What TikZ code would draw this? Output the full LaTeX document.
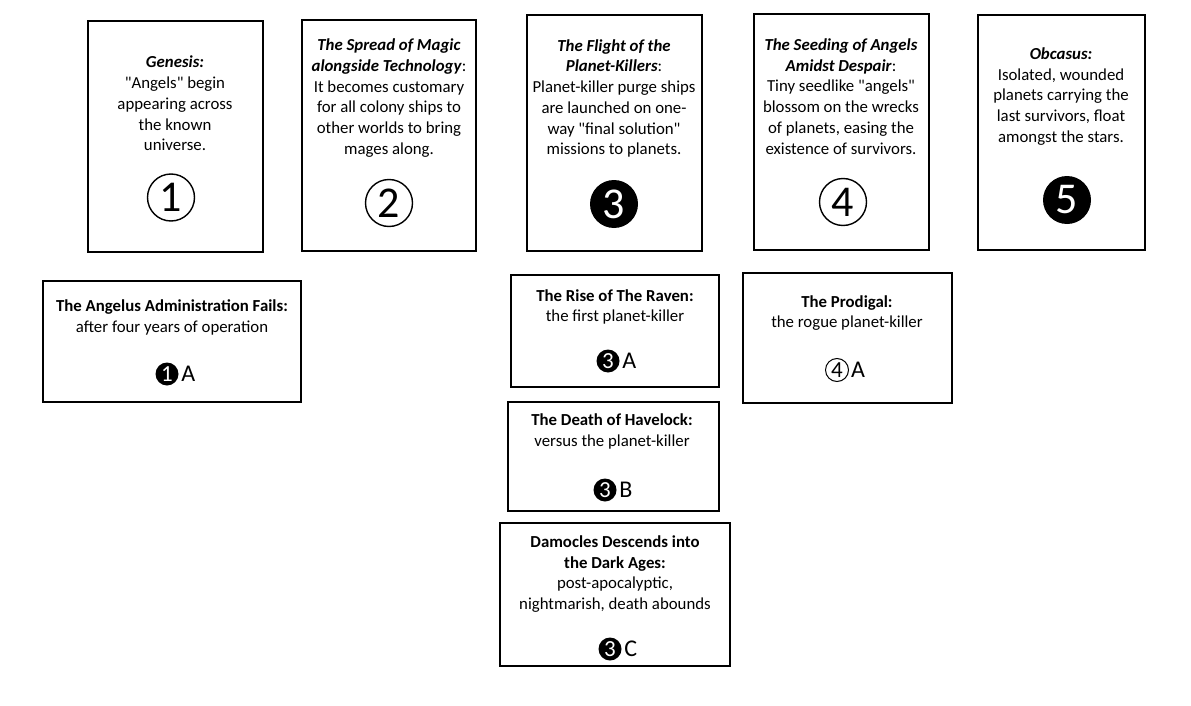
\documentclass[tikz,border=0pt]{standalone}
\usepackage{fontspec}
\setmainfont{Carlito}[Ligatures=TeXOff]
\begin{document}
\begin{tikzpicture}[x=1pt,y=-1pt,
  box/.style={draw, line width=1.8pt, inner sep=0pt},
  txt/.style={align=center, inner sep=0pt, font=\fontsize{16.8}{20.7}\selectfont},
  bigo/.style={circle, draw, line width=1.4pt, minimum size=47pt, inner sep=0pt, font=\fontsize{44}{44}\selectfont},
  bigf/.style={circle, fill=black, text=white, minimum size=48pt, inner sep=0pt, font=\fontsize{44}{44}\selectfont},
  smo/.style={circle, draw, line width=1pt, minimum size=23pt, inner sep=0pt, font=\fontsize{23}{23}\selectfont},
  smf/.style={circle, fill=black, text=white, minimum size=23pt, inner sep=0pt, font=\fontsize{23}{23}\selectfont},
  letr/.style={anchor=west, inner sep=0pt, font=\fontsize{24}{24}\selectfont}]
\useasboundingbox (0,0) rectangle (1191,706);
% top boxes
\node[box, minimum width=175pt, minimum height=231pt] (b1) at (175.5,136.5) {};
\node[box, minimum width=174pt, minimum height=231pt] (b2) at (389,135.5) {};
\node[box, minimum width=175pt, minimum height=236pt] (b3) at (614.5,133) {};
\node[box, minimum width=175pt, minimum height=236pt] (b4) at (841.5,132) {};
\node[box, minimum width=167pt, minimum height=235pt] (b5) at (1061.5,132.5) {};
% lower boxes
\node[box, minimum width=258pt, minimum height=121pt] (b1a) at (172,341.5) {};
\node[box, minimum width=208pt, minimum height=112pt] (b3a) at (615,331) {};
\node[box, minimum width=209pt, minimum height=130pt] (b4a) at (847.5,338) {};
\node[box, minimum width=211pt, minimum height=109pt] (b3b) at (613.5,456.5) {};
\node[box, minimum width=230pt, minimum height=143pt] (b3c) at (615,594.5) {};
% texts
\node[txt] (t1) at (175,103.5) {\textbf{\textit{Genesis:}}\\"Angels" begin\\appearing across\\the known\\universe.};
\node[txt] (t2) at (389,98) {\textbf{\textit{The Spread of Magic}}\\\textbf{\textit{alongside Technology}}:\\It becomes customary\\for all colony ships to\\other worlds to bring\\mages along.};
\node[txt] (t3) at (614,98.5) {\textbf{\textit{The Flight of the}}\\\textbf{\textit{Planet-Killers}}:\\Planet-killer purge ships\\are launched on one-\\way "final solution"\\missions to planets.};
\node[txt] (t4) at (841,96.5) {\textbf{\textit{The Seeding of Angels}}\\\textbf{\textit{Amidst Despair}}:\\Tiny seedlike "angels"\\blossom on the wrecks\\of planets, easing the\\existence of survivors.};
\node[txt] (t5) at (1061,96.5) {\textbf{\textit{Obcasus:}}\\Isolated, wounded\\planets carrying the\\last survivors, float\\amongst the stars.};
\node[txt] (t1a) at (172,317.5) {\textbf{The Angelus Administration Fails:}\\after four years of operation};
\node[txt] (t3a) at (615,307) {\textbf{The Rise of The Raven:}\\the first planet-killer};
\node[txt] (t4a) at (847,313) {\textbf{The Prodigal:}\\the rogue planet-killer};
\node[txt] (t3b) at (612,431.5) {\textbf{The Death of Havelock:}\\versus the planet-killer};
\node[txt] (t3c) at (615,574) {\textbf{Damocles Descends into}\\\textbf{the Dark Ages:}\\post-apocalyptic,\\nightmarish, death abounds};
% big circled numbers
\node[bigo] (c1) at (171,197.5) {1};
\node[bigo] (c2) at (389,203) {2};
\node[bigf] (c3) at (614,204) {3};
\node[bigo] (c4) at (843,202) {4};
\node[bigf] (c5) at (1067,200) {5};
% small circled numbers with letters
\node[smf] (s1a) at (167,374) {1};
\node[letr] (l1a) at ([xshift=2.5pt]s1a.east) {A};
\node[smf] (s3a) at (608,361) {3};
\node[letr] (l3a) at ([xshift=2.5pt]s3a.east) {A};
\node[smo] (s4a) at (837,370) {4};
\node[letr] (l4a) at ([xshift=2pt]s4a.east) {A};
\node[smf] (s3b) at (605,490) {3};
\node[letr] (l3b) at ([xshift=2.5pt]s3b.east) {B};
\node[smf] (s3c) at (610,649) {3};
\node[letr] (l3c) at ([xshift=2.5pt]s3c.east) {C};
\end{tikzpicture}
\end{document}
